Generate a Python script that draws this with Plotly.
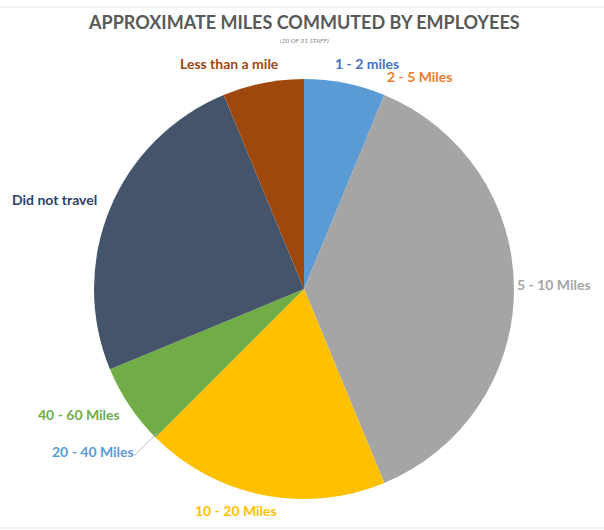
import plotly.graph_objects as go

categories = ["1 - 2 miles", "2 - 5 Miles", "5 - 10 Miles", "10 - 20 Miles",
              "20 - 40 Miles", "40 - 60 Miles", "Did not travel", "Less than a mile"]
values = [1, 0, 6, 3, 0, 1, 4, 1]
slice_colors = ["#5B9BD5", "#ED7D31", "#A5A5A5", "#FFC000",
                "#5B9BD5", "#70AD47", "#44546A", "#9E480E"]
label_colors = ["#4472C4", "#ED7D31", "#A5A5A5", "#FFC000",
                "#5B9BD5", "#70AD47", "#2F4066", "#9E480E"]
# label centers in pixels (x, y) within the 604x530 canvas
label_pos = [(367, 64), (419, 77), (554, 284), (236, 510),
             (93, 451), (79, 414), (55, 199), (229, 64)]

W, H = 604, 530
def px(x):
    return x / W
def py(y):
    return 1 - y / H

fig = go.Figure(go.Pie(
    labels=categories, values=values, sort=False, direction="clockwise",
    rotation=0, marker=dict(colors=slice_colors, line=dict(color="white", width=0)),
    textinfo="none", hoverinfo="label+value", showlegend=False,
    domain=dict(x=[px(94), px(514)], y=[py(499), py(79)]),
))

for lab, col, (x, y) in zip(categories, label_colors, label_pos):
    fig.add_annotation(x=px(x), y=py(y), xref="paper", yref="paper", text=lab,
                       showarrow=False, xanchor="center", yanchor="middle",
                       font=dict(family="Lato", size=14, color=col, weight="bold"))

fig.add_annotation(x=px(304), y=py(22), xref="paper", yref="paper",
                   text="APPROXIMATE MILES COMMUTED BY EMPLOYEES", showarrow=False,
                   xanchor="center", yanchor="middle",
                   font=dict(family="Lato", size=18, color="#595959", weight="bold"))
fig.add_annotation(x=px(304), y=py(41), xref="paper", yref="paper",
                   text="<i>(20 OF 31 STAFF)</i>", showarrow=False,
                   xanchor="center", yanchor="middle",
                   font=dict(family="Lato", size=6.5, color="#7F7F7F"))

# leader line for the 20 - 40 Miles label
fig.add_shape(type="line", xref="paper", yref="paper",
              x0=px(134), y0=py(456), x1=px(157), y1=py(433),
              line=dict(color="#BFBFBF", width=1))
# faint frame lines
fig.add_shape(type="line", xref="paper", yref="paper", x0=0, x1=1, y0=py(7), y1=py(7),
              line=dict(color="#E6E6E6", width=1))
fig.add_shape(type="line", xref="paper", yref="paper", x0=0, x1=1, y0=py(528), y1=py(528),
              line=dict(color="#E6E6E6", width=1))

fig.update_layout(width=W, height=H, margin=dict(l=0, r=0, t=0, b=0),
                  paper_bgcolor="white", plot_bgcolor="white")
fig.write_html("out.html")
